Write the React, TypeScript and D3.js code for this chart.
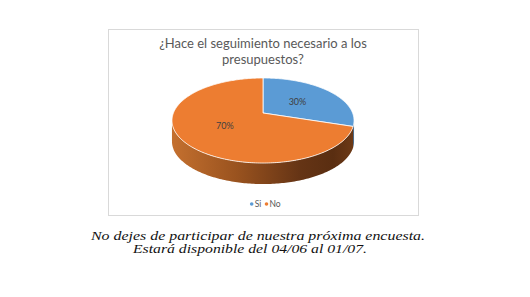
import React from "react";
import * as d3 from "d3";

const categories = ["Si", "No"];
const values = [30, 70];
const colors = ["#5b9bd5", "#ed7d31"];
const sideColors = ["#2f5f8c", "url(#sideGrad)"];
const titleLines = ["¿Hace el seguimiento necesario a los", "presupuestos?"];
const captionLines = [
  "No dejes de participar de nuestra próxima encuesta.",
  "Estará disponible del 04/06 al 01/07.",
];

const W = 530;
const H = 297;
const cx = 263;
const cy = 113;
const A = 41.2;
const B = 89.6;
const k = 0.1765;
const depth = 21;

function proj(theta: number, r: number, dz = 0): [number, number] {
  const u = r * Math.sin(theta);
  const v = r * Math.cos(theta);
  const s = 1 + k * v;
  return [cx + (B * u) / s, cy - (A * v) / s + dz];
}

function arcPoints(a0: number, a1: number, dz = 0): [number, number][] {
  const n = Math.max(2, Math.ceil(((a1 - a0) * 180) / Math.PI));
  return d3.range(n + 1).map((i) => proj(a0 + ((a1 - a0) * i) / n, 1, dz));
}

export default function App() {
  const pie = d3
    .pie<number>()
    .sort(null)
    .startAngle(0)
    .endAngle(2 * Math.PI)(values);

  const line = d3.line();
  const frontStart = Math.acos(-k);
  const frontEnd = 2 * Math.PI - Math.acos(-k);

  const sides = pie
    .map((p, i) => {
      const a0 = Math.max(p.startAngle, frontStart);
      const a1 = Math.min(p.endAngle, frontEnd);
      if (a1 <= a0) return null;
      const top = arcPoints(a0, a1, 0);
      const bottom = arcPoints(a0, a1, depth).reverse();
      return { d: line([...top, ...bottom])! + "Z", fill: sideColors[i] };
    })
    .filter(Boolean) as { d: string; fill: string }[];

  const tops = pie.map((p, i) => {
    const pts: [number, number][] = [proj(0, 0), ...arcPoints(p.startAngle, p.endAngle)];
    return { d: line(pts)! + "Z", fill: colors[i] };
  });

  const labels = pie.map((p) => {
    const mid = (p.startAngle + p.endAngle) / 2;
    const [x, y] = proj(mid, 0.5);
    const total = d3.sum(values);
    return { x, y, text: `${Math.round((p.value / total) * 100)}%` };
  });

  const font = "Lato, 'Open Sans', sans-serif";
  const capFont = "'Liberation Serif', serif";

  return (
    <svg
      width={W}
      height={H}
      style={{ position: "absolute", left: 0, top: 0, background: "#fff" }}
    >
      <defs>
        <linearGradient id="sideGrad" gradientUnits="userSpaceOnUse" x1={172} y1={0} x2={355} y2={0}>
          <stop offset="0" stopColor="#c4702f" />
          <stop offset="0.35" stopColor="#9a531f" />
          <stop offset="0.7" stopColor="#653415" />
          <stop offset="0.88" stopColor="#5a2e11" />
          <stop offset="1" stopColor="#6e3a17" />
        </linearGradient>
      </defs>
      <rect x={108.5} y={29.5} width={310} height={186} fill="#fff" stroke="#d9d9d9" strokeWidth={1} />
      {titleLines.map((t, i) => (
        <text
          key={i}
          x={263}
          y={48 + i * 15.5}
          textAnchor="middle"
          fontFamily={font}
          fontSize={13}
          fill="#595959"
        >
          {t}
        </text>
      ))}
      {sides.map((s, i) => (
        <path key={"s" + i} d={s.d} fill={s.fill} />
      ))}
      {tops.map((t, i) => (
        <path key={"t" + i} d={t.d} fill={t.fill} stroke="#ffffff" strokeWidth={0.8} strokeLinejoin="round" />
      ))}
      {labels.map((l, i) => (
        <text
          key={"l" + i}
          x={l.x}
          y={l.y}
          textAnchor="middle"
          dominantBaseline="central"
          fontFamily={font}
          fontSize={9}
          fill="#404040"
        >
          {l.text}
        </text>
      ))}
      {categories.map((c, i) => (
        <g key={"g" + i} transform={`translate(${251.7 + i * 14.8},204)`}>
          <circle r={1.8} fill={colors[i]} />
          <text x={3} y={0} dominantBaseline="central" fontFamily={font} fontSize={8.5} fill="#595959">
            {c}
          </text>
        </g>
      ))}
      <text x={91} y={239.5} fontFamily={capFont} fontStyle="italic" fontSize={12} fill="#111" textLength={334} lengthAdjust="spacingAndGlyphs">
        {captionLines[0]}
      </text>
      <text x={133} y={252.5} fontFamily={capFont} fontStyle="italic" fontSize={12} fill="#111" textLength={234} lengthAdjust="spacingAndGlyphs">
        {captionLines[1]}
      </text>
    </svg>
  );
}
